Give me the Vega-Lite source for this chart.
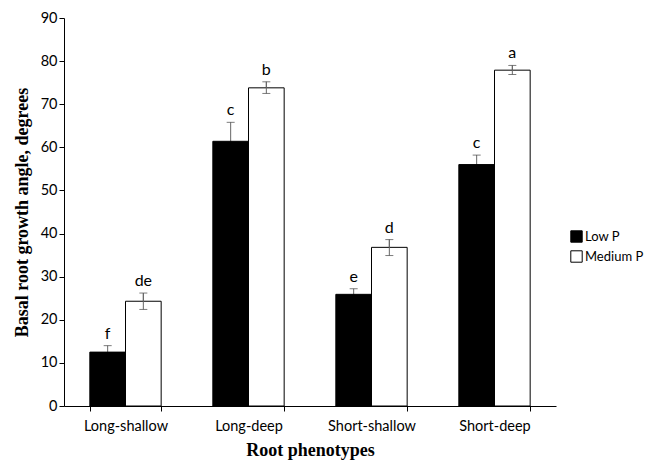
{
  "$schema": "https://vega.github.io/schema/vega-lite/v6.json",
  "width": 492,
  "height": 388,
  "autosize": {"type": "none"},
  "padding": {"left": 64, "top": 18, "right": 91, "bottom": 54},
  "background": "white",
  "config": {"view": {"stroke": null}, "font": "Lato"},
  "data": {
    "values": [
      {"phenotype": "Long-shallow", "level": "Low P", "value": 12.5, "lo": 11.0, "hi": 14.0, "letter": "f"},
      {"phenotype": "Long-shallow", "level": "Medium P", "value": 24.3, "lo": 22.4, "hi": 26.2, "letter": "de"},
      {"phenotype": "Long-deep", "level": "Low P", "value": 61.4, "lo": 57.0, "hi": 65.8, "letter": "c"},
      {"phenotype": "Long-deep", "level": "Medium P", "value": 73.8, "lo": 72.5, "hi": 75.2, "letter": "b"},
      {"phenotype": "Short-shallow", "level": "Low P", "value": 25.9, "lo": 24.6, "hi": 27.2, "letter": "e"},
      {"phenotype": "Short-shallow", "level": "Medium P", "value": 36.8, "lo": 34.9, "hi": 38.6, "letter": "d"},
      {"phenotype": "Short-deep", "level": "Low P", "value": 56.0, "lo": 53.9, "hi": 58.2, "letter": "c"},
      {"phenotype": "Short-deep", "level": "Medium P", "value": 77.9, "lo": 76.9, "hi": 79.0, "letter": "a"}
    ]
  },
  "encoding": {
    "x": {
      "field": "phenotype",
      "type": "nominal",
      "sort": ["Long-shallow", "Long-deep", "Short-shallow", "Short-deep"],
      "scale": {"paddingInner": 0.42, "paddingOuter": 0.21},
      "axis": {
        "title": "Root phenotypes",
        "titleFont": "Liberation Serif",
        "titleFontWeight": "bold",
        "titleFontSize": 18,
        "titleColor": "black",
        "titlePadding": 9,
        "labelAngle": 0,
        "labelFontSize": 14.5,
        "labelColor": "black",
        "labelPadding": 8,
        "tickBand": "extent",
        "tickColor": "black",
        "tickSize": 5,
        "domainColor": "black",
        "grid": false
      }
    },
    "xOffset": {"field": "level", "type": "nominal", "sort": ["Low P", "Medium P"]}
  },
  "layer": [
    {
      "mark": {"type": "rule", "color": "#666666", "strokeWidth": 1},
      "encoding": {
        "y": {"field": "lo", "type": "quantitative", "scale": {"domain": [0, 90], "nice": false}},
        "y2": {"field": "hi"}
      }
    },
    {
      "mark": {"type": "tick", "color": "#444444", "size": 8, "thickness": 1},
      "encoding": {"y": {"field": "hi", "type": "quantitative"}}
    },
    {
      "mark": {"type": "bar", "stroke": "black", "strokeWidth": 1},
      "encoding": {
        "y": {
          "field": "value",
          "type": "quantitative",
          "scale": {"domain": [0, 90], "nice": false},
          "axis": {
            "title": "Basal root growth angle, degrees",
            "titleFont": "Liberation Serif",
            "titleFontWeight": "bold",
            "titleFontSize": 18,
            "titleColor": "black",
            "titlePadding": 9,
            "values": [0, 10, 20, 30, 40, 50, 60, 70, 80, 90],
            "labelFontSize": 14.5,
            "labelColor": "black",
            "tickColor": "black",
            "tickSize": 5,
            "domainColor": "black",
            "grid": false
          }
        },
        "fill": {
          "field": "level",
          "type": "nominal",
          "scale": {"domain": ["Low P", "Medium P"], "range": ["black", "white"]},
          "legend": {
            "title": null,
            "orient": "none",
            "legendX": 506,
            "legendY": 212,
            "symbolType": "square",
            "symbolSize": 130,
            "symbolStrokeColor": "black",
            "symbolStrokeWidth": 1,
            "labelFontSize": 13,
            "labelColor": "black",
            "labelOffset": 2,
            "rowPadding": 3
          }
        }
      }
    },
    {
      "transform": [{"filter": "datum.level === 'Medium P'"}],
      "mark": {"type": "rule", "color": "#666666", "strokeWidth": 1},
      "encoding": {
        "y": {"field": "lo", "type": "quantitative"},
        "y2": {"field": "hi"}
      }
    },
    {
      "transform": [{"filter": "datum.level === 'Medium P'"}],
      "mark": {"type": "tick", "color": "#444444", "size": 8, "thickness": 1},
      "encoding": {"y": {"field": "lo", "type": "quantitative"}}
    },
    {
      "mark": {"type": "text", "baseline": "bottom", "dy": -4, "fontSize": 16, "color": "black"},
      "encoding": {
        "y": {"field": "hi", "type": "quantitative"},
        "text": {"field": "letter"}
      }
    }
  ]
}
